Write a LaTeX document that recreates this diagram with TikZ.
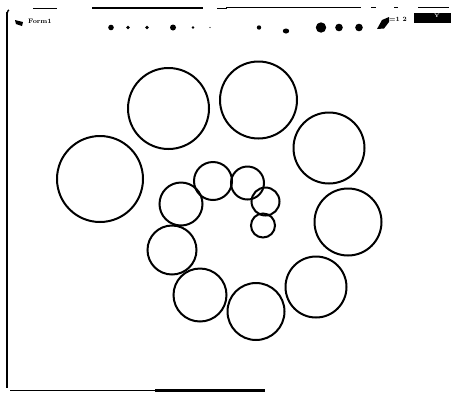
\documentclass[tikz,border=0pt]{standalone}
\usepackage{tikz}
\begin{document}
\begin{tikzpicture}[x=1pt,y=-1pt,
  ring/.style={line width=2pt},
  frame/.style={line width=1.4pt},
  dot/.style={fill=black}]
\useasboundingbox (0,0) rectangle (452,392);
\fill[white] (0,0) rectangle (452,392);
% window frame
\draw[frame] (7,12) -- (7,388);
\draw[frame] (7,14) to[out=-90,in=180] (9,10);
\draw[line width=0.8pt] (33,8) -- (57,8);
\draw[line width=1.2pt] (92,8) -- (203,8);
\draw[line width=0.8pt] (217,8) -- (227,8);
\draw[line width=0.8pt] (226,7.5) -- (261,7.5);
\draw[line width=1.4pt] (261,7.5) -- (361,7.5);
\draw[line width=0.8pt] (371,7) -- (376,7);
\draw[line width=0.8pt] (394,7) -- (398,7);
\draw[line width=0.8pt] (418,7) -- (449,7);
\draw[line width=0.9pt] (10,390) -- (155,390);
\draw[line width=3pt] (155,390) -- (265,390);
% title bar content
\fill (15,20) -- (23,22) -- (22,26) -- (16,24) -- cycle;
\node[anchor=west,inner sep=0pt,font=\fontsize{6.5}{6.5}\selectfont\bfseries] (title) at (28,21) {Form1};
\foreach \px/\pr in {111/2.8,128/1.8,147/1.8,173/3,193/1.3,210/0.7,259/2.2,321/5.2,339/3.8,359/3.8}
  \fill[dot] (\px,27.5) circle (\pr);
\fill[dot] (286,31) ellipse (3.2 and 2.5);
\fill[dot] (377,29) -- (382,20) -- (389,17) -- (389,22) -- (384,28.5) -- cycle;
\node[anchor=west,inner sep=0pt,font=\fontsize{6.5}{6.5}\selectfont\bfseries] (ctl) at (389,19) {=1 2};
\fill[dot] (414,13) rectangle (451,23);
\node[inner sep=0pt,text=white,font=\fontsize{5}{5}\selectfont\bfseries] (ybox) at (437,16) {Y};
% spiral of circles
\foreach \cx/\cy/\r in {
  100/179/43,
  168.5/108.5/40.5,
  258.5/100/38.5,
  329/148/35.5,
  348/222/33.5,
  316/287/30.5,
  256/311.5/28.5,
  200/295/26.5,
  172/250/24.5,
  181/204/21.5,
  213/181/19,
  247.5/183/16.5,
  265.5/201.5/14,
  263/225.5/12}
  \draw[ring] (\cx,\cy) circle (\r);
\end{tikzpicture}
\end{document}
